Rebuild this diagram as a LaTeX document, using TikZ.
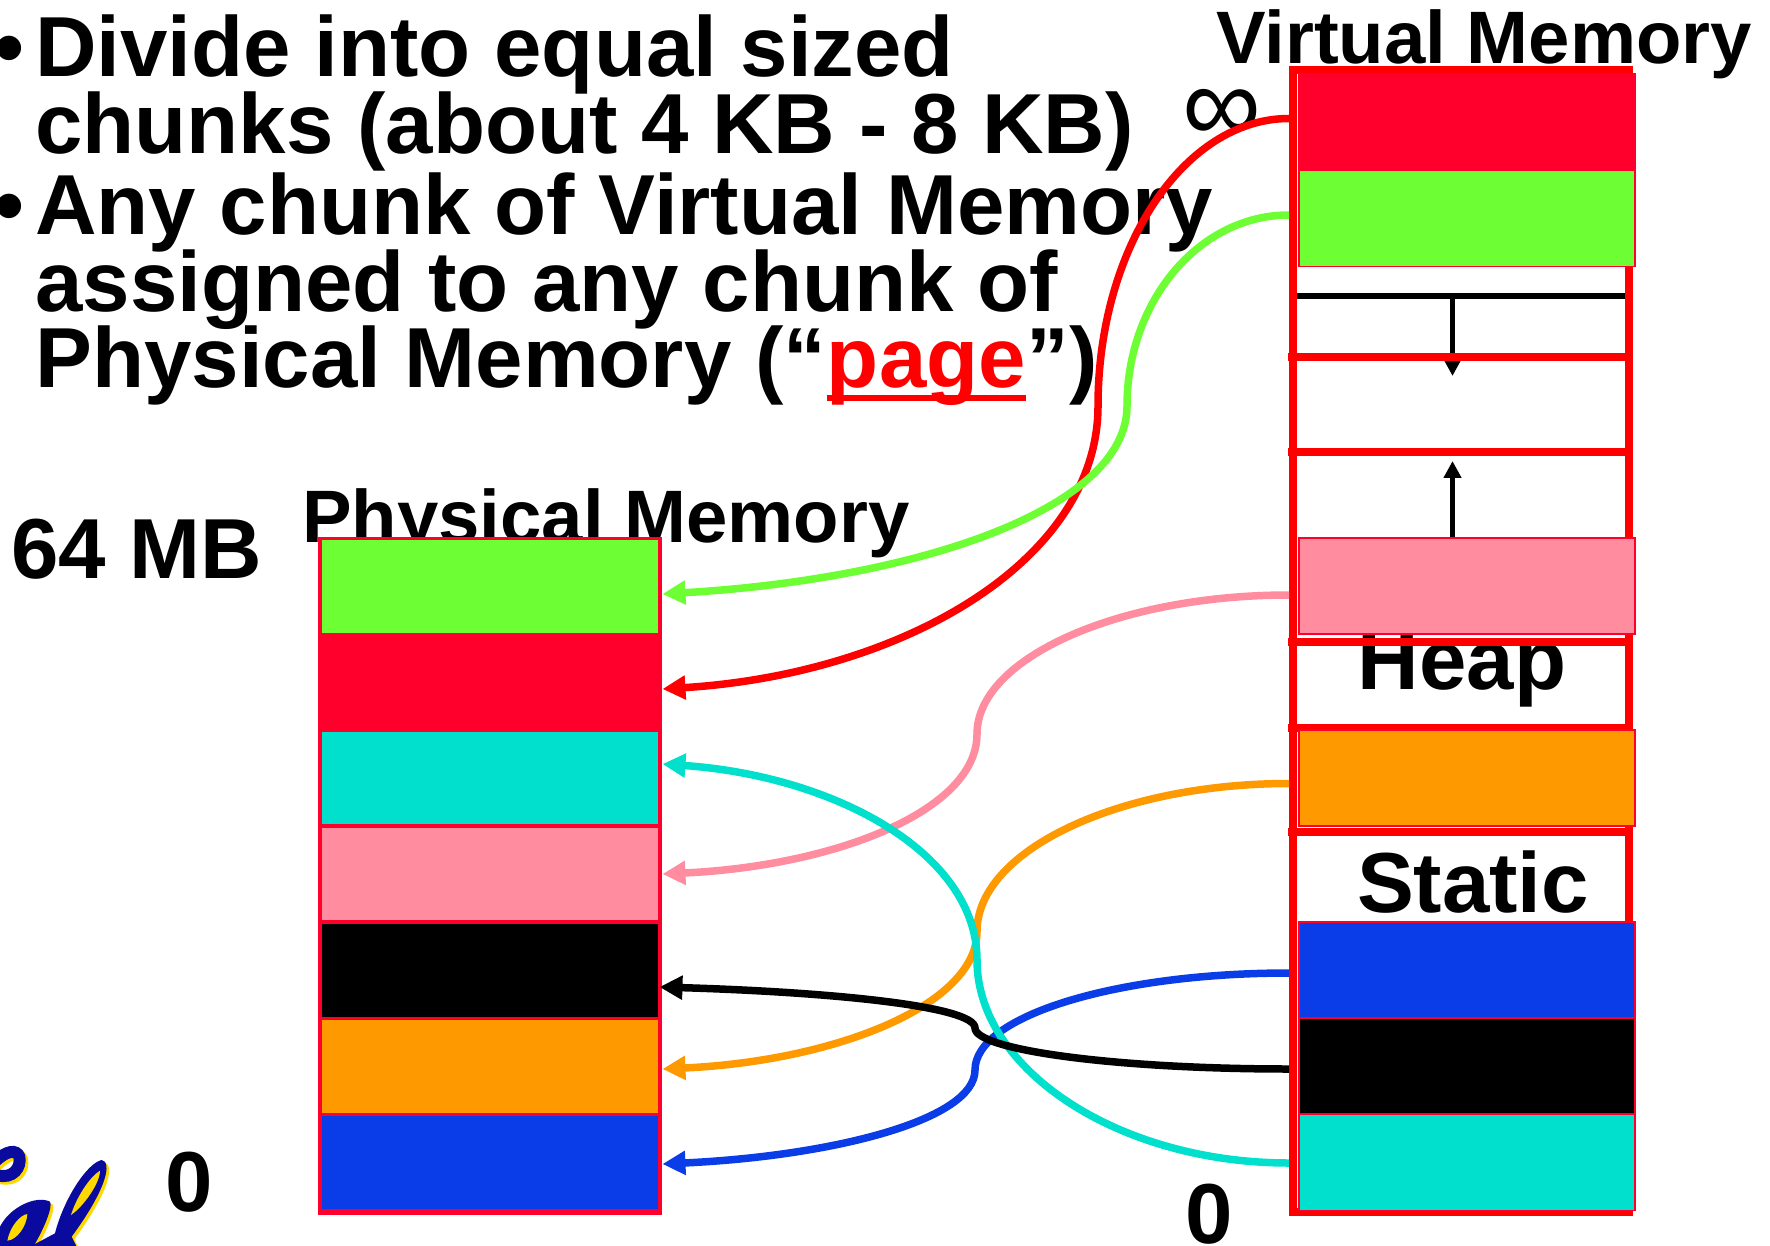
\documentclass[tikz,border=0pt]{standalone}
\usepackage{fontspec}
\setmainfont{Liberation Sans}
\usetikzlibrary{arrows.meta,calc}
\definecolor{pagered}{HTML}{FF002D}
\definecolor{pagegreen}{HTML}{6DFF33}
\definecolor{pageteal}{HTML}{00E0CC}
\definecolor{pagepink}{HTML}{FF8C9F}
\definecolor{pageorange}{HTML}{FF9900}
\definecolor{pageblue}{HTML}{0A3DE8}
\definecolor{calblue}{HTML}{0A0A9E}
\definecolor{calgold}{HTML}{FFD800}
\tikzset{
  bigtext/.style={anchor=base west, inner sep=0pt, font=\fontsize{48.5}{50}\selectfont\bfseries},
  titletext/.style={anchor=base west, inner sep=0pt, font=\fontsize{42.3}{44}\selectfont\bfseries},
  page/.style={draw=pagered, line width=0.06cm, minimum height=1.92cm, inner sep=0pt, outer sep=0pt},
  stackframe/.style={fill=white, inner sep=0pt, outer sep=0pt},
  maplink/.style={line width=0.15cm, -{Triangle[length=0.46cm,width=0.46cm]}},
  stackarrow/.style={line width=0.11cm, black, -{Triangle[length=0.34cm,width=0.34cm]}}
}
\begin{document}
\begin{tikzpicture}[x=0.02cm,y=-0.02cm]
    \useasboundingbox (0,0) rectangle (1770,1246);
    %Slide text
    \node[bigtext, anchor=base] (bulletone) at (9,77) {\textbullet};
    \node[bigtext] (lineone) at (35,77) {Divide into equal sized};
    \node[bigtext] (linetwo) at (35,154) {chunks (about 4 KB - 8 KB)};
    \node[bigtext, anchor=base] (bullettwo) at (9,235) {\textbullet};
    \node[bigtext] (linethree) at (35,235) {Any chunk of Virtual Memory};
    \node[bigtext] (linefour) at (35,312) {assigned to any chunk of};
    \node[bigtext] (linefive) at (35,388) {Physical Memory (“};
    \node[bigtext, red, anchor=base west] (pageword) at (linefive.base east) {page};
    \node[bigtext, anchor=base west] (lineend) at (pageword.base east) {”)};
    \draw[red, line width=0.11cm] ([yshift=-0.2cm]pageword.base west) -- ([yshift=-0.2cm]pageword.base east);

    %Labels
    \node[titletext] (physlabel) at (302,542) {Physical Memory};
    \node[titletext] (virtlabel) at (1216,64) {Virtual Memory};
    \node[bigtext] (sizelabel) at (11,578) {64 MB};
    \node[bigtext] (physzero) at (165,1211) {0};
    \node[bigtext] (virtzero) at (1185,1243) {0};
    \node[anchor=base west, inner sep=0pt, font=\fontsize{63}{65}\selectfont] (inftylabel) at (1182,143) {∞};

    %Cal logo, corner of it only
    \begin{scope}[shift={(0,1100)},x=0.00667cm,y=-0.00667cm]
      \clip (0,0) rectangle (345,438);
      \foreach \col/\dx in {calgold/8, calblue/0} {
        \draw[\col, line width=0.24cm, line cap=round, shift={(\dx,\dx)}] (-10,225) .. controls (40,240) and (65,200) .. (58,170) .. controls (50,148) and (20,150) .. (-15,185);
        \fill[\col, shift={(\dx,\dx)}] (-5,440) -- (0,380) .. controls (30,320) and (110,285) .. (150,305) .. controls (160,320) and (130,390) .. (100,440) -- cycle;
        \fill[\col, shift={(\dx,\dx)}] (165,400) .. controls (190,300) and (260,190) .. (305,180) .. controls (335,185) and (325,260) .. (215,410) -- (230,440) -- (90,440) -- cycle;
      }
      \fill[calgold] (22,422) .. controls (30,380) and (60,345) .. (82,342) .. controls (80,380) and (50,420) .. (22,422) -- cycle;
      \fill[calgold] (213,345) .. controls (230,290) and (270,230) .. (300,212) .. controls (300,250) and (250,320) .. (213,345) -- cycle;
    \end{scope}

    %Physical memory
    \node[stackframe, draw=pagered, line width=0.1cm, minimum width=6.78cm, minimum height=13.46cm] (pframe) at (490,876) {};
    \foreach \name/\y/\col in {green/586.5/pagegreen, red/682.5/pagered, teal/778/pageteal, pink/874/pagepink, black/970/black, orange/1066/pageorange, blue/1162.5/pageblue} {
      \node[page, minimum width=6.78cm, fill=\col] (p\name) at (490,\y) {};
    }

    %Virtual memory
    \node[stackframe, draw=red, line width=0.16cm, minimum width=6.73cm, minimum height=22.83cm] (vframe) at (1460.7,641) {};
    \node[bigtext, anchor=base] (heaplabel) at (1462,689) {Heap};
    \node[bigtext, anchor=base] (staticlabel) at (1473,912) {Static};
    \coordinate (barleft) at (1297,296);
    \coordinate (barright) at (1625,296);
    \coordinate (bardown) at (1452.5,296);
    \coordinate (downtip) at (1452.5,376);
    \coordinate (upstart) at (1452.5,537);
    \coordinate (uptip) at (1452.5,461);
    \draw[black, line width=0.12cm] (barleft) -- (barright);
    \draw[stackarrow] (bardown) -- (downtip);
    \draw[stackarrow] (upstart) -- (uptip);
    % Red dividers of the stack
    \foreach \y in {357,452,642,728,832} {
      \draw[red, line width=0.15cm] (1288,\y) -- (1633,\y);
    }
    \foreach \name/\y/\col in {red/122/pagered, green/218.5/pagegreen, pink/586/pagepink, orange/778/pageorange, blue/970/pageblue, black/1066/black, teal/1162.5/pageteal} {
      \node[page, line width=0.03cm, minimum width=6.72cm, fill=\col] (v\name) at (1467,\y) {};
    }

    %Mappings, virtual page to physical page
    \draw[maplink, red] ([shift={(-10,-3.5)}]vred.west) .. controls +(-105,0) and +(0,-158) .. (1098,406) .. controls +(0,155) and +(240,-15) .. ([shift={(3,6.5)}]pred.east);
    \draw[maplink, pagegreen] ([shift={(-10,-3.5)}]vgreen.west) .. controls +(-90,0) and +(0,-105) .. (1127,406) .. controls +(0,103) and +(255,-15) .. ([shift={(3,7.5)}]pgreen.east);
    \draw[maplink, pagepink] ([shift={(-10,9)}]vpink.west) .. controls +(-170,0) and +(0,-76) .. (977,734) .. controls +(0,77) and +(172,-8) .. ([shift={(3,0)}]ppink.east);
    \draw[maplink, pageorange] ([shift={(-10,5.5)}]vorange.west) .. controls +(-170,0) and +(0,-81) .. (977,931.5) .. controls +(0,74) and +(172,-8) .. ([shift={(3,3)}]porange.east);
    \draw[maplink, pageblue] ([shift={(-10,3)}]vblue.west) .. controls +(-173,0) and +(0,-54) .. (975,1070) .. controls +(0,50) and +(170,-8) .. ([shift={(3,1.5)}]pblue.east);
    \draw[maplink, pageteal] ([shift={(-10,0.5)}]vteal.west) .. controls +(-170,0) and +(0,110) .. (977,960) .. controls +(0,-107) and +(172,12) .. ([shift={(3,-14)}]pteal.east);
    \draw[maplink, black] ([shift={(-10,3)}]vblack.west) .. controls +(-173,0) and +(0,22) .. (975,1028) .. controls +(0,-22) and +(170,5) .. ([shift={(0,17)}]pblack.east);
\end{tikzpicture}
\end{document}
